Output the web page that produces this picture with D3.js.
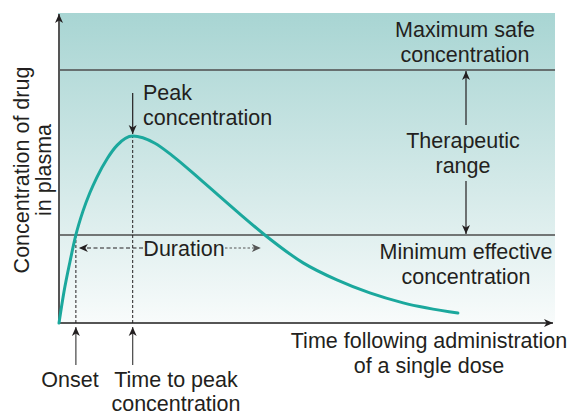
<!DOCTYPE html>
<html>
<head>
<meta charset="utf-8">
<script src="https://cdn.jsdelivr.net/npm/d3@7/dist/d3.min.js"></script>
<style>
  html, body { margin: 0; padding: 0; background: #ffffff; }
  svg { display: block; }
  text { font-family: "Liberation Sans", Arial, Helvetica, sans-serif; fill: #231f20; }
</style>
</head>
<body>
<svg id="chart" width="567" height="415"></svg>
<script>
// Plasma concentration after a single dose (arbitrary units)
const timeH = [0, 0.12, 0.27, 0.41, 0.58, 0.75, 0.92, 1.17, 1.41, 1.79, 2.33, 2.75, 3.5, 4.32, 5.0, 5.93, 6.75, 7.55, 8.36, 9.69];
const conc  = [0, 10, 20, 28.4, 36, 42, 47, 53, 57.3, 60.3, 58, 54, 45.5, 36, 28.4, 19.4, 13.9, 9.7, 6.5, 3.2];

// Reference levels
const levelNames  = ["Maximum safe concentration", "Minimum effective concentration"];
const levelValues = [81.6, 28.4];

// Key times
const onsetT = 0.41;     // curve first reaches the minimum effective level
const peakT = 1.79;      // time to peak
const peakC = 60.3;      // peak concentration
const offsetT = 5.0;     // curve falls back below the minimum effective level

const FS = 21.5;

const svg = d3.select("#chart");

const x = d3.scaleLinear().domain([0, 12]).range([59, 553]);
const y = d3.scaleLinear().domain([0, 100]).range([323, 13]);

// Background gradient
const defs = svg.append("defs");
const grad = defs.append("linearGradient")
  .attr("id", "bg").attr("x1", 0).attr("y1", 0).attr("x2", 0).attr("y2", 1);
grad.append("stop").attr("offset", "0%").attr("stop-color", "#a8d5d3");
grad.append("stop").attr("offset", "55%").attr("stop-color", "#d3e9e8");
grad.append("stop").attr("offset", "100%").attr("stop-color", "#f8fbfb");

// Arrowhead
function marker(id, color) {
  defs.append("marker")
    .attr("id", id)
    .attr("viewBox", "-10 -5 12 10")
    .attr("refX", 0).attr("refY", 0)
    .attr("markerWidth", 12).attr("markerHeight", 10)
    .attr("markerUnits", "userSpaceOnUse")
    .attr("orient", "auto")
    .append("path")
    .attr("d", "M0,0 L-9,-4 L-6.5,0 L-9,4 Z")
    .attr("fill", color);
}
marker("arrow", "#231f20");
marker("arrowGray", "#555555");

svg.append("rect")
  .attr("x", x(0) - 1).attr("y", y(100))
  .attr("width", 555 - x(0) + 1).attr("height", y(0) - y(100))
  .attr("fill", "url(#bg)");

// Level lines
svg.selectAll("line.level")
  .data(levelValues)
  .join("line")
  .attr("class", "level")
  .attr("x1", x(0)).attr("x2", 555)
  .attr("y1", d => y(d)).attr("y2", d => y(d))
  .attr("stroke", "#4d4d4d").attr("stroke-width", 1.5);

// Axes with arrowheads
svg.append("line")
  .attr("x1", x(0)).attr("y1", y(0)).attr("x2", x(0)).attr("y2", y(100) + 1)
  .attr("stroke", "#555555").attr("stroke-width", 2)
  .attr("marker-end", "url(#arrow)");
svg.append("line")
  .attr("x1", x(0) - 1).attr("y1", y(0)).attr("x2", x(12)).attr("y2", y(0))
  .attr("stroke", "#555555").attr("stroke-width", 2)
  .attr("marker-end", "url(#arrow)");

// Dashed guides for onset and peak
const dashed = "3,2";
svg.append("line")
  .attr("x1", x(onsetT)).attr("x2", x(onsetT))
  .attr("y1", y(0)).attr("y2", y(levelValues[1]))
  .attr("stroke", "#231f20").attr("stroke-width", 1).attr("stroke-dasharray", dashed);
svg.append("line")
  .attr("x1", x(peakT)).attr("x2", x(peakT))
  .attr("y1", y(0)).attr("y2", y(peakC))
  .attr("stroke", "#231f20").attr("stroke-width", 1).attr("stroke-dasharray", dashed);

// Concentration curve
const line = d3.line()
  .x((d, i) => x(timeH[i]))
  .y(d => y(d))
  .curve(d3.curveMonotoneX);
svg.append("path")
  .attr("d", line(conc))
  .attr("fill", "none")
  .attr("stroke", "#1ba89d")
  .attr("stroke-width", 3)
  .attr("stroke-linecap", "round");

// Duration arrow
const durY = 248;
const durMid = 184;
const durHalf = 41;
svg.append("line")
  .attr("x1", durMid - durHalf).attr("y1", durY).attr("x2", x(onsetT) + 3).attr("y2", durY)
  .attr("stroke", "#231f20").attr("stroke-width", 1).attr("stroke-dasharray", "4,2.5")
  .attr("marker-end", "url(#arrow)");
svg.append("line")
  .attr("x1", durMid + durHalf).attr("y1", durY).attr("x2", x(offsetT) - 4).attr("y2", durY)
  .attr("stroke", "#555555").attr("stroke-width", 1).attr("stroke-dasharray", "2.5,2")
  .attr("marker-end", "url(#arrowGray)");
svg.append("text")
  .attr("x", durMid).attr("y", durY + 8)
  .attr("text-anchor", "middle").attr("font-size", FS)
  .text("Duration");

// Peak arrow
svg.append("line")
  .attr("x1", x(peakT)).attr("x2", x(peakT))
  .attr("y1", 93).attr("y2", y(peakC) - 2)
  .attr("stroke", "#231f20").attr("stroke-width", 1.2)
  .attr("marker-end", "url(#arrow)");

// Therapeutic range arrows
const tx = 466;
svg.append("line")
  .attr("x1", tx).attr("x2", tx).attr("y1", 125).attr("y2", y(levelValues[0]) + 1)
  .attr("stroke", "#231f20").attr("stroke-width", 1.2)
  .attr("marker-end", "url(#arrow)");
svg.append("line")
  .attr("x1", tx).attr("x2", tx).attr("y1", 181).attr("y2", y(levelValues[1]) - 1)
  .attr("stroke", "#231f20").attr("stroke-width", 1.2)
  .attr("marker-end", "url(#arrow)");

// Arrows from below the time axis
[onsetT, peakT].forEach(t => {
  svg.append("line")
    .attr("x1", x(t)).attr("x2", x(t)).attr("y1", 365).attr("y2", y(0) + 4)
    .attr("stroke", "#444444").attr("stroke-width", 1.2)
    .attr("marker-end", "url(#arrow)");
});

// Text labels
function label(lines, cx, y0, anchor, lh) {
  const t = svg.append("text")
    .attr("text-anchor", anchor || "middle")
    .attr("font-size", FS);
  lines.forEach((s, i) => {
    t.append("tspan").attr("x", cx).attr("y", y0 + i * (lh || 25)).text(s);
  });
  return t;
}
label(["Maximum safe", "concentration"], 465, 37);
label(["Therapeutic", "range"], 463, 148);
label(["Minimum effective", "concentration"], 466, 259);
label(["Peak", "concentration"], 143, 100, "start");
label(["Time following administration", "of a single dose"], 429, 348);
label(["Onset"], 70, 387);
label(["Time to peak", "concentration"], 176, 387, "middle", 24);

// Vertical axis title
const yt = svg.append("text")
  .attr("text-anchor", "middle").attr("font-size", FS)
  .attr("transform", "translate(29,170) rotate(-90)");
yt.append("tspan").attr("x", 0).attr("y", 0).text("Concentration of drug");
yt.append("tspan").attr("x", 0).attr("y", 22).text("in plasma");
</script>
</body>
</html>
